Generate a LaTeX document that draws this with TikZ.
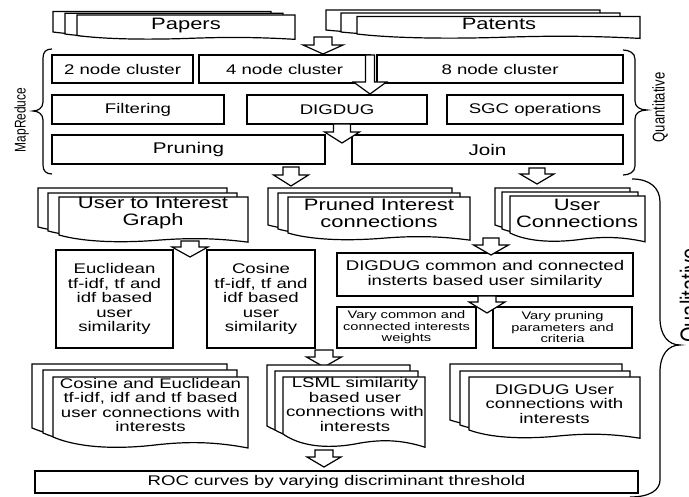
\documentclass[tikz,border=0pt]{standalone}
\usepackage{fontspec}
\setmainfont{Liberation Sans}
\newfontfamily\df[FakeStretch=1.33]{Liberation Sans}
\newfontfamily\dfc[FakeStretch=0.77]{Liberation Sans}

\tikzset{
  sheetline/.style={draw=black, fill=white, line width=1.2pt, line join=miter},
  box/.style={draw=black, fill=white, line width=1.2pt, inner sep=0pt, align=center,
    font=\df\fontsize{14}{14.5}\selectfont},
  txt/.style={inner sep=0pt, align=center, font=\df\fontsize{14}{14.5}\selectfont},
  bigtxt/.style={inner sep=0pt, align=center, font=\df\fontsize{16.5}{17}\selectfont},
  smalltxt/.style={font=\df\fontsize{11}{11.5}\selectfont},
  midtxt/.style={font=\df\fontsize{15.5}{16}\selectfont},
  vlabel/.style={inner sep=0pt, rotate=90},
  bracket/.style={draw=black, line width=1.2pt}
}

% document sheet: x0, ytop, x1, y of left bottom, wave depth
\newcommand{\sheet}[5]{%
  \pgfmathsetmacro{\sw}{#3-#1}%
  \draw[sheetline] (#1,#2) -- (#3,#2) -- (#3,#4+1.1*#5)
    .. controls (#1+0.8*\sw,#4+0.35*#5) and (#1+0.65*\sw,#4+0.5*#5) .. (#1+0.5*\sw,#4+0.85*#5)
    .. controls (#1+0.3*\sw,#4+1.25*#5) and (#1+0.12*\sw,#4+1.0*#5) .. (#1,#4) -- cycle;
}
% block arrow: cx, stem top, head top, tip, stem half width, head half width
\newcommand{\barrow}[6]{%
  \draw[sheetline] (#1-#5,#2) -- (#1+#5,#2) -- (#1+#5,#3) -- (#1+#6,#3) -- (#1,#4)
    -- (#1-#6,#3) -- (#1-#5,#3) -- cycle;
}

\begin{document}
\begin{tikzpicture}[x=1pt,y=-1pt]
\useasboundingbox[fill=white] (0,0) rectangle (689,497);

% ---------- Papers / Patents ----------
\sheet{53}{11.5}{271}{32}{3.5}
\sheet{65}{13.3}{283}{34}{3.5}
\sheet{77}{15}{295}{35.5}{3.5}
\node[bigtxt] (papers) at (186,25.5) {Papers};

\sheet{326}{10}{600}{30}{3.5}
\sheet{341}{13}{620}{32}{3.5}
\sheet{357}{16.5}{640}{34}{4}
\node[bigtxt] (patents) at (499,24) {Patents};

\barrow{323}{37}{45}{54}{9}{20}

% ---------- Quantitative group ----------
\node[box, minimum width=141pt, minimum height=28pt] (n2) at (122.5,69) {2 node cluster};
\node[box, minimum width=171pt, minimum height=28pt] (n4) at (284.5,69) {4 node cluster};
\node[box, minimum width=246pt, minimum height=28pt] (n8) at (500,69) {8 node cluster};

\node[box, minimum width=172pt, minimum height=29pt] (filt) at (138,109.5) {Filtering};
\node[box, minimum width=180pt, minimum height=29pt] (digdug) at (337,109.5) {DIGDUG};
\node[box, minimum width=176pt, minimum height=29pt] (sgc) at (535,109.5) {SGC operations};

\node[box, midtxt, minimum width=273pt, minimum height=29pt] (prun) at (188.5,149.5) {Pruning};
\node[box, midtxt, minimum width=271pt, minimum height=29pt] (join) at (487.5,149.5) {Join};

\barrow{370}{55}{82}{94}{4.5}{16.5}
\barrow{342}{124}{132}{143}{8.5}{17.5}

% braces
\draw[bracket] (52,49) .. controls (46,49) and (43,52) .. (43,58) -- (43,102)
  .. controls (43,108) and (38,111) .. (33,111) .. controls (38,111) and (43,114) .. (43,120)
  -- (43,165) .. controls (43,171) and (46,174) .. (52,174);
\node[vlabel, font=\dfc\fontsize{15.5}{15.5}\selectfont] (mapreduce) at (21.5,120) {MapReduce};

\draw[bracket] (623,50) .. controls (629,50) and (635,53) .. (635,59) -- (635,101)
  .. controls (635,107) and (640,110) .. (647,110) .. controls (640,110) and (635,113) .. (635,119)
  -- (635,166) .. controls (635,172) and (629,175) .. (623,175);
\node[vlabel, font=\dfc\fontsize{17}{17}\selectfont] (quant) at (660,107.5) {Quantitative};

\barrow{291}{167}{175}{186}{8}{17.5}
\barrow{537}{168}{174}{184}{8}{17}

% ---------- Qualitative group ----------
\sheet{38}{188}{227}{227}{6}
\sheet{48}{193}{237}{231}{6}
\sheet{59}{197}{248}{235}{6.5}
\node[bigtxt] (uig) at (153,213.5) {User to Interest\\Graph};

\sheet{268}{188}{452}{225}{6}
\sheet{278}{193}{460}{229}{6}
\sheet{288}{197}{470}{233}{6.5}
\node[bigtxt] (pic) at (379,213.5) {Pruned Interest\\connections};

\sheet{495}{188}{630}{225}{6}
\sheet{502}{192}{638}{229}{6}
\sheet{510}{196}{645}{233}{8}
\node[bigtxt] (uc) at (577,213) {User\\Connections};

\node[box, minimum width=117pt, minimum height=98pt] (eucl) at (114.5,299)
  {Euclidean\\tf-idf, tf and\\idf based\\user\\similarity};
\node[box, minimum width=108pt, minimum height=98pt] (cos) at (261,299)
  {Cosine\\tf-idf, tf and\\idf based\\user\\similarity};
\node[box, minimum width=296pt, minimum height=43pt] (dcom) at (485,274.5)
  {DIGDUG common and connected\\insterts based user similarity};
\node[box, smalltxt, minimum width=139pt, minimum height=41pt] (vcom) at (406.5,327.5)
  {Vary common and\\connected interests\\weights};
\node[box, smalltxt, minimum width=139pt, minimum height=41pt] (vprun) at (562.5,327.5)
  {Vary pruning\\parameters and\\criteria};

\barrow{190}{241}{247}{257}{9}{18}
\barrow{491}{238}{245}{255}{8}{17.5}
\barrow{487}{296}{302}{313}{9}{18}
\barrow{324}{350}{357}{367}{9}{17.5}

\sheet{32}{364}{227}{428}{10}
\sheet{43}{370}{237}{433}{10}
\sheet{53}{377}{248}{437}{10}
\node[txt] (ceu) at (150.5,405)
  {Cosine and Euclidean\\tf-idf, idf and tf based\\user connections with\\interests};

\sheet{267}{365}{410}{426}{10}
\sheet{275}{371}{418}{430}{10}
\sheet{283}{377}{425}{434}{12}
\node[txt] (lsml) at (355,404.5)
  {LSML similarity\\based user\\connections with\\interests};

\sheet{450}{364}{622}{420}{7}
\sheet{460}{371}{630}{425}{7}
\sheet{469}{377}{640}{430}{7.5}
\node[txt] (dusr) at (554.5,404)
  {DIGDUG User\\connections with\\interests};

\barrow{324}{450}{457}{467}{9}{17}

\node[box, minimum width=603pt, minimum height=22pt] (roc) at (336.5,482)
  {ROC curves by varying discriminant threshold};

\draw[bracket] (632,179) .. controls (650,179) and (660,188) .. (660,202) -- (660,318)
  .. controls (660,335) and (668,345) .. (680,345) .. controls (668,345) and (660,355) .. (660,372)
  -- (660,480) .. controls (660,490) and (650,497) .. (630,497);
\node[vlabel, anchor=north, font=\dfc\fontsize{26}{26}\selectfont] (qual) at (679.5,295.5) {Qualitative};
\end{tikzpicture}
\end{document}
